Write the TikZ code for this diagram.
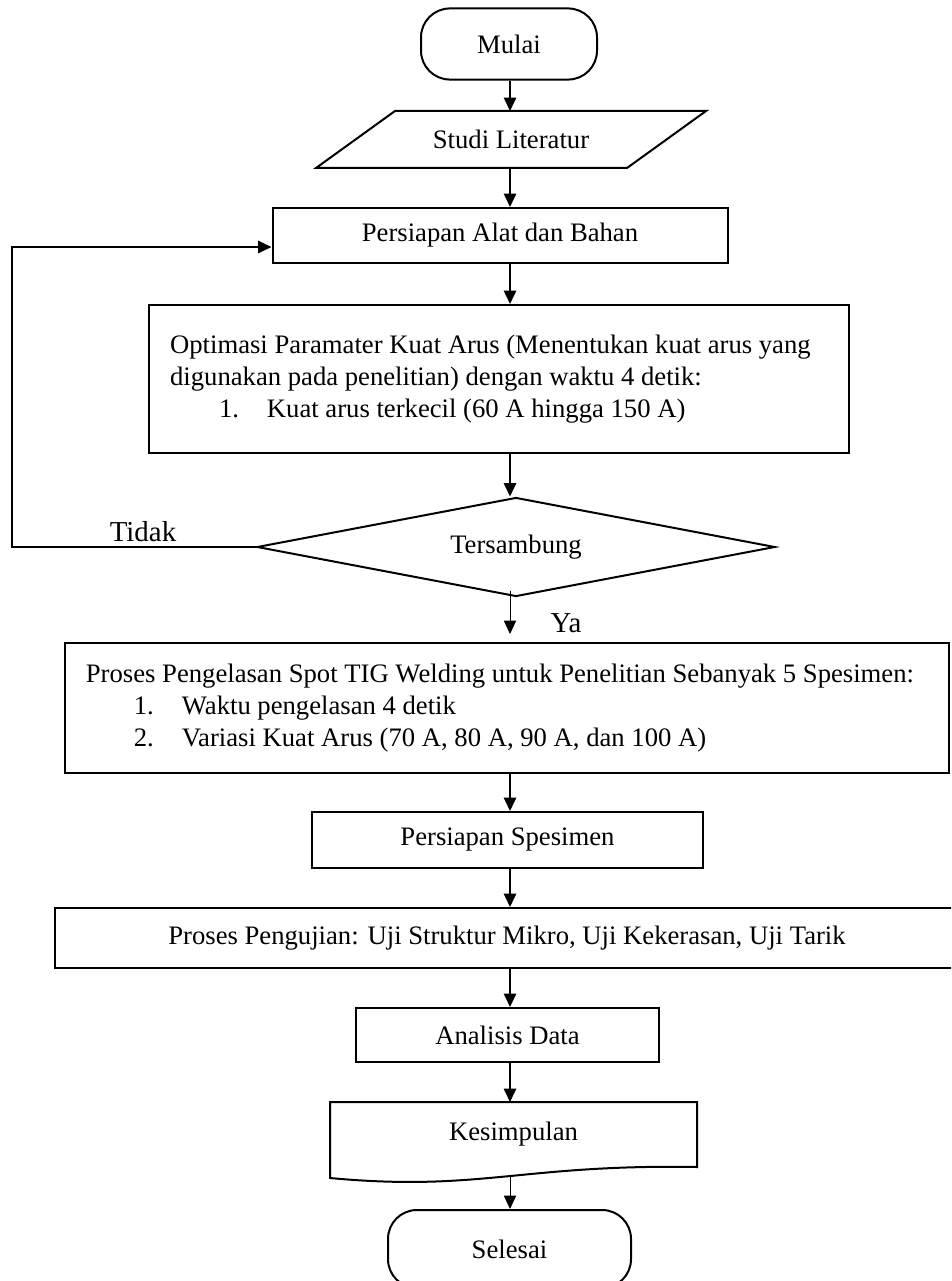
\documentclass[tikz,border=0pt]{standalone}
\usepackage{fontspec}
\setmainfont{Liberation Serif}
\usepackage{tikz}
\usetikzlibrary{arrows.meta,positioning,shapes.geometric,calc}

\begin{document}
\begin{tikzpicture}[x=0.45pt,y=-0.45pt,
  base/.style={draw,line width=0.9pt,inner sep=2pt,align=center,font=\fontsize{12}{14.4}\selectfont},
  term/.style={base,rounded corners=13pt},
  proc/.style={base,rectangle},
  io/.style={base,draw=none,rectangle},
  decision/.style={base,diamond,aspect=5.2,inner sep=0pt},
  doc/.style={base,draw=none,rectangle},
  list/.style={proc,align=flush left,inner xsep=9.45pt},
  lbl/.style={font=\fontsize{13}{15.6}\selectfont,inner sep=0pt},
  arrow/.style={-{Triangle[length=6pt,width=5.5pt]},line width=0.9pt},
  thinarrow/.style={-{Triangle[length=6pt,width=5.5pt]},line width=0.45pt}
]
  \useasboundingbox (0,0) rectangle (951,1281);
  \clip (0,0) rectangle (951,1281);

  \node[term,minimum width=79.2pt,minimum height=32pt] (mulai) at (509,44) {Mulai};
  \node[io,minimum width=139.05pt,minimum height=24.75pt] (studi) at (511,139.5) {Studi Literatur};
  \node[proc,minimum width=204.75pt,minimum height=24.75pt] (alat) at (500,235.5) {Persiapan Alat dan Bahan};
  \node[list,minimum width=315pt,minimum height=66.6pt,text width=296pt] (opt) at (499,379)
    {\mbox{Optimasi Paramater Kuat Arus (Menentukan kuat arus yang}\\
     \mbox{digunakan pada penelitian) dengan waktu 4 detik:}\\
     \mbox{\hspace*{22pt}\makebox[21.6pt][l]{1.}Kuat arus terkecil (60 A hingga 150 A)}};
  \node[decision,minimum width=233.1pt,minimum height=44.55pt] (tes) at (516,547) {\raisebox{-2.7pt}{Tersambung}};
  \node[list,minimum width=397.8pt,minimum height=58.5pt,text width=379pt] (las) at (507,708)
    {\mbox{Proses Pengelasan Spot TIG Welding untuk Penelitian Sebanyak 5 Spesimen:}\\
     \mbox{\hspace*{21.6pt}\makebox[21.6pt][l]{1.}Waktu pengelasan 4 detik}\\
     \mbox{\hspace*{21.6pt}\makebox[21.6pt][l]{2.}Variasi Kuat Arus (70 A, 80 A, 90 A, dan 100 A)}\\[1.8pt]};
  \node[proc,minimum width=175.95pt,minimum height=25.2pt] (spes) at (507.5,840) {Persiapan Spesimen};
  \node[proc,minimum width=406.8pt,minimum height=27pt] (uji) at (507,938) {Proses Pengujian: Uji Struktur Mikro, Uji Kekerasan, Uji Tarik};
  \node[proc,minimum width=136.35pt,minimum height=24.3pt] (anal) at (507.5,1035) {Analisis Data};
  \node[doc,minimum width=164.25pt,minimum height=28.35pt] (kes) at (513.5,1134.5) {Kesimpulan};
  \node[term,minimum width=109.35pt,minimum height=35.1pt] (sel) at (509.5,1249) {Selesai};

  \node[lbl] (tidak) at (143,532) {Tidak};
  \node[lbl] (ya) at (566,623) {Ya};

  \draw[line width=0.9pt] ($(studi.south west)+(-39.5,0)$) -- ($(studi.south east)+(-39.5,0)$)
    -- ($(studi.north east)+(39.5,0)$) -- ($(studi.north west)+(39.5,0)$) -- cycle;
  \draw[line width=0.9pt] (kes.north west) -- (kes.north east) -- (kes.south east)
    .. controls ($(kes.south east)+(-176,-3)$) and ($(kes.south west)+(150,25)$) .. ($(kes.south west)+(0,11)$) -- cycle;

  \coordinate (axis) at (510,0);
  \coordinate (back) at (12,247);

  \draw[arrow] (mulai.south -| axis) -- (studi.north -| axis);
  \draw[arrow] (studi.south -| axis) -- (alat.north -| axis);
  \draw[arrow] (alat.south -| axis) -- (opt.north -| axis);
  \draw[arrow] (opt.south -| axis) -- (tes.north -| axis);
  \draw[thinarrow] ($(tes.south -| axis)+(0,-7)$) -- ($(las.north -| axis)+(0,-8)$);
  \draw[arrow] (las.south -| axis) -- (spes.north -| axis);
  \draw[arrow] (spes.south -| axis) -- (uji.north -| axis);
  \draw[arrow] (uji.south -| axis) -- (anal.north -| axis);
  \draw[arrow] (anal.south -| axis) -- (kes.north -| axis);
  \draw[thinarrow] ($(kes.south -| axis)+(0,8)$) -- (sel.north -| axis);
  \draw[arrow] (tes.west) -- (back |- tes.west) -- (back) -- (back -| alat.west);
\end{tikzpicture}
\end{document}
